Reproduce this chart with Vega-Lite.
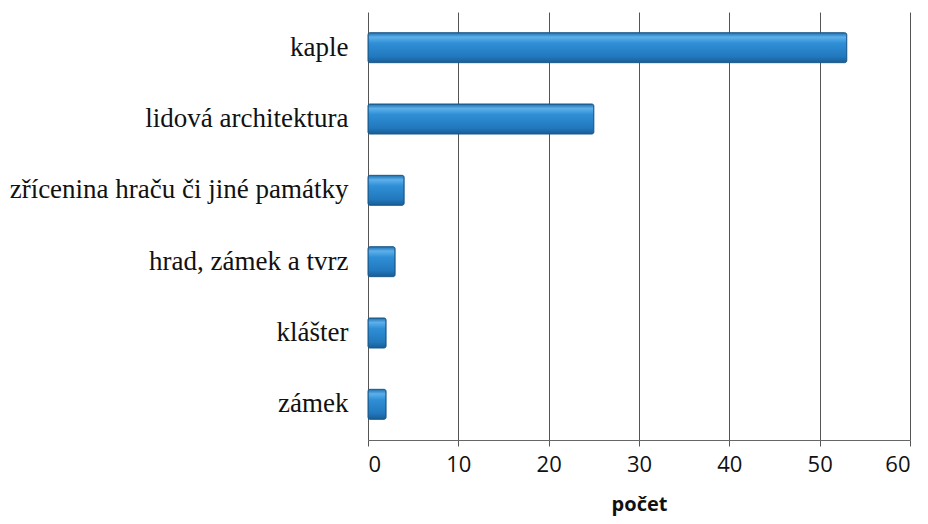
{
  "$schema": "https://vega.github.io/schema/vega-lite/v6.json",
  "width": 542,
  "height": 428,
  "autosize": {"type": "none"},
  "padding": {"left": 368, "top": 12, "right": 18, "bottom": 84},
  "background": "white",
  "data": {
    "values": [
      {"kategorie": "kaple", "pocet": 53},
      {"kategorie": "lidová architektura", "pocet": 25},
      {"kategorie": "zřícenina hraču či jiné památky", "pocet": 4},
      {"kategorie": "hrad, zámek a tvrz", "pocet": 3},
      {"kategorie": "klášter", "pocet": 2},
      {"kategorie": "zámek", "pocet": 2}
    ]
  },
  "mark": {
    "type": "bar",
    "height": 30,
    "cornerRadius": 2,
    "stroke": "#1b5a8c",
    "strokeWidth": 1,
    "color": {
      "gradient": "linear",
      "x1": 0, "y1": 0, "x2": 0, "y2": 1,
      "stops": [
        {"offset": 0, "color": "#1e6fae"},
        {"offset": 0.15, "color": "#5db0ea"},
        {"offset": 0.35, "color": "#2f8fd6"},
        {"offset": 0.8, "color": "#2278bd"},
        {"offset": 1, "color": "#185d94"}
      ]
    }
  },
  "encoding": {
    "y": {
      "field": "kategorie",
      "type": "nominal",
      "sort": null,
      "title": null,
      "axis": {
        "domain": false,
        "ticks": false,
        "labelPadding": 20,
        "labelFont": "'Liberation Serif', 'Times New Roman', serif",
        "labelFontSize": 27,
        "labelColor": "#111",
        "labelLimit": 400
      }
    },
    "x": {
      "field": "pocet",
      "type": "quantitative",
      "scale": {"domain": [0, 60]},
      "title": "počet",
      "axis": {
        "values": [0, 10, 20, 30, 40, 50, 60],
        "grid": true,
        "gridColor": "#555",
        "gridWidth": 1,
        "domainColor": "#666",
        "tickColor": "#555",
        "tickSize": 6,
        "labelFont": "Open Sans",
        "labelFontSize": 22,
        "labelColor": "#111",
        "labelPadding": 8,
        "titleFont": "Open Sans",
        "titleFontSize": 20,
        "titleFontWeight": "bold",
        "titleColor": "#111",
        "titlePadding": 19
      }
    }
  },
  "config": {"view": {"stroke": null}}
}
